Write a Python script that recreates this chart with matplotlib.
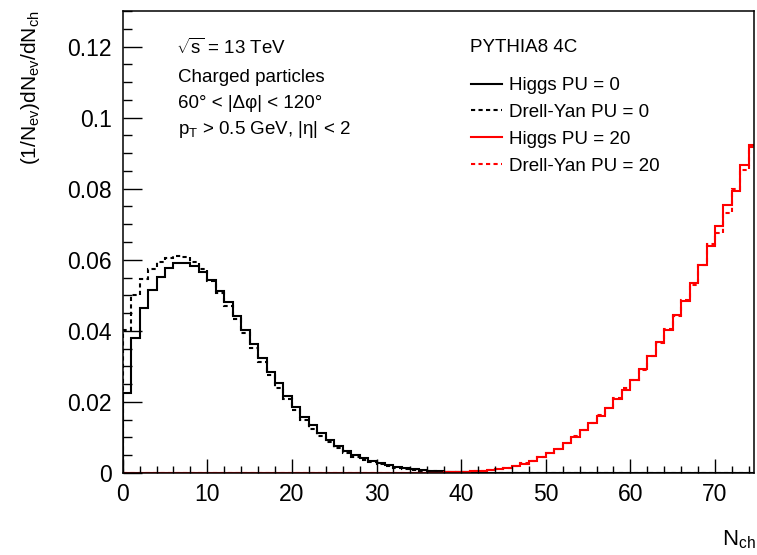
import numpy as np
import matplotlib
matplotlib.use("Agg")
import matplotlib.pyplot as plt
from matplotlib.ticker import MultipleLocator
from matplotlib.lines import Line2D

plt.rcParams['font.family'] = ['Liberation Sans', 'DejaVu Sans']
plt.rcParams['mathtext.fontset'] = 'custom'
plt.rcParams['mathtext.rm'] = 'Liberation Sans'
plt.rcParams['mathtext.it'] = 'Liberation Sans'
plt.rcParams['mathtext.default'] = 'regular'

# ---- data: N_ch bins 0..75 (width 1) ----
bin_edges = list(range(0, 76))

higgs_pu0 = [0.0224, 0.0379, 0.0464, 0.0515, 0.0553, 0.0577, 0.0592, 0.0592, 0.0583, 0.0567,
             0.0544, 0.0511, 0.0480, 0.0442, 0.0403, 0.0363, 0.0323, 0.0285, 0.0253, 0.0218,
             0.0187, 0.0159, 0.0135, 0.0112, 0.0093, 0.0076, 0.0063, 0.0051, 0.0041, 0.0034,
             0.0027, 0.0022, 0.0018, 0.0014, 0.0011, 0.0009, 0.0007, 0.0005, 0.0004, 0.0003,
             0.0002, 0.00015, 0.0001, 0.00008, 0.00005, 0.00003, 0.00002, 0.00001, 0.0, 0.0,
             0.0, 0.0, 0.0, 0.0, 0.0, 0.0, 0.0, 0.0, 0.0, 0.0,
             0.0, 0.0, 0.0, 0.0, 0.0, 0.0, 0.0, 0.0, 0.0, 0.0,
             0.0, 0.0, 0.0, 0.0, 0.0]

dy_pu0 = [0.0403, 0.0501, 0.0546, 0.0574, 0.0594, 0.0606, 0.0611, 0.0607, 0.0595, 0.0574,
          0.0540, 0.0506, 0.0470, 0.0433, 0.0393, 0.0352, 0.0313, 0.0275, 0.0240, 0.0207,
          0.0176, 0.0149, 0.0125, 0.0104, 0.0086, 0.0070, 0.0057, 0.0046, 0.0037, 0.0030,
          0.0024, 0.0019, 0.0015, 0.0012, 0.0009, 0.0007, 0.0005, 0.0004, 0.0003, 0.0002,
          0.00015, 0.0001, 0.00007, 0.00005, 0.00003, 0.00002, 0.00001, 0.0, 0.0, 0.0,
          0.0, 0.0, 0.0, 0.0, 0.0, 0.0, 0.0, 0.0, 0.0, 0.0,
          0.0, 0.0, 0.0, 0.0, 0.0, 0.0, 0.0, 0.0, 0.0, 0.0,
          0.0, 0.0, 0.0, 0.0, 0.0]

higgs_pu20 = [0.0] * 35 + [
    0.00005, 0.0001, 0.0001, 0.0002, 0.0003,
    0.0004, 0.0005, 0.0007, 0.0008, 0.0011, 0.0015, 0.0020, 0.0026, 0.0035, 0.0044,
    0.0055, 0.0069, 0.0085, 0.0102, 0.0121, 0.0140, 0.0160, 0.0184, 0.0209, 0.0234,
    0.0262, 0.0292, 0.0328, 0.0368, 0.0403, 0.0445, 0.0485, 0.0534, 0.0584, 0.0639,
    0.0694, 0.0755, 0.0794, 0.0868, 0.0924]

dy_pu20 = [0.0] * 35 + [
    0.00005, 0.0001, 0.0001, 0.0002, 0.0003,
    0.0004, 0.0006, 0.0007, 0.0009, 0.0012, 0.0015, 0.0021, 0.0027, 0.0034, 0.0044,
    0.0056, 0.0069, 0.0084, 0.0103, 0.0120, 0.0141, 0.0162, 0.0182, 0.0210, 0.0240,
    0.0263, 0.0290, 0.0330, 0.0365, 0.0405, 0.0442, 0.0488, 0.0530, 0.0586, 0.0645,
    0.0675, 0.0731, 0.0800, 0.0852, 0.0918]

series_labels = ['Higgs PU = 0', 'Drell-Yan PU = 0', 'Higgs PU = 20', 'Drell-Yan PU = 20']

x_ticks = [0, 10, 20, 30, 40, 50, 60, 70]
y_ticks = [0, 0.02, 0.04, 0.06, 0.08, 0.1, 0.12]
y_ticklabels = ["0", "0.02", "0.04", "0.06", "0.08", "0.1", "0.12"]

# ---- figure ----
fig = plt.figure(figsize=(7.57, 5.55), dpi=100)
ax = fig.add_axes([0.1621, 0.1477, 0.8344, 0.8324])

lw = 1.5
dash = (0, (2.0, 1.6))
styles = [('black', '-'), ('black', dash), ('#ff0000', '-'), ('#ff0000', dash)]
for vals, (c, ls), lab in zip([higgs_pu0, dy_pu0, higgs_pu20, dy_pu20], styles, series_labels):
    ax.stairs(vals, bin_edges, color=c, lw=lw, linestyle=ls, label=lab)

ax.set_xlim(0, 74.65)
ax.set_ylim(0, 0.13)
ax.set_xticks(x_ticks)
ax.set_xticklabels([str(t) for t in x_ticks])
ax.set_yticks(y_ticks)
ax.set_yticklabels(y_ticklabels)
ax.xaxis.set_minor_locator(MultipleLocator(2))
ax.yaxis.set_minor_locator(MultipleLocator(0.005))

ax.tick_params(axis='x', which='major', direction='in', length=10, width=1.0,
               labelsize=16.5, pad=7, top=False)
ax.tick_params(axis='x', which='minor', direction='in', length=5, width=1.0, top=False)
ax.tick_params(axis='y', which='major', direction='in', length=13.5, width=1.0,
               labelsize=16.5, pad=8, right=False)
ax.tick_params(axis='y', which='minor', direction='in', length=6.8, width=1.0, right=False)
for s in ax.spines.values():
    s.set_linewidth(1.1)

# axis titles (ROOT style, aligned to axis ends)
fig.text(756 / 757, 1 - 540 / 555, r'N$_{ch}$', ha='right', va='center', fontsize=16)
fig.text(31 / 757, 1 - 10 / 555, r'(1/N$_{ev}$)dN$_{ev}$/dN$_{ch}$', rotation=90,
         ha='center', va='top', fontsize=15)

# annotation texts
tfs = 13.5
def ftxt(xp, yp, s, **kw):
    fig.text(xp / 757, 1 - yp / 555, s, ha='left', va='center', fontsize=tfs, **kw)

ftxt(176, 48, r'$\sqrt{s}$ = 13 TeV')
ftxt(178, 77, 'Charged particles')
ftxt(178, 104, '60° < |Δφ| < 120°')
ftxt(178, 129, r'p$_{T}$ > 0.5 GeV, |η| < 2')
ftxt(470, 48, 'PYTHIA8 4C')

# legend
hl = [Line2D([], [], color=c, lw=lw, linestyle=ls) for c, ls in styles]
leg = fig.legend(hl, series_labels, loc='upper left',
                 bbox_to_anchor=(471 / 757, 1 - 77 / 555),
                 frameon=False, fontsize=tfs, handlelength=1.65, handletextpad=0.37,
                 labelspacing=0.52, borderaxespad=0, borderpad=0)

fig.savefig('out.png', dpi=100)
